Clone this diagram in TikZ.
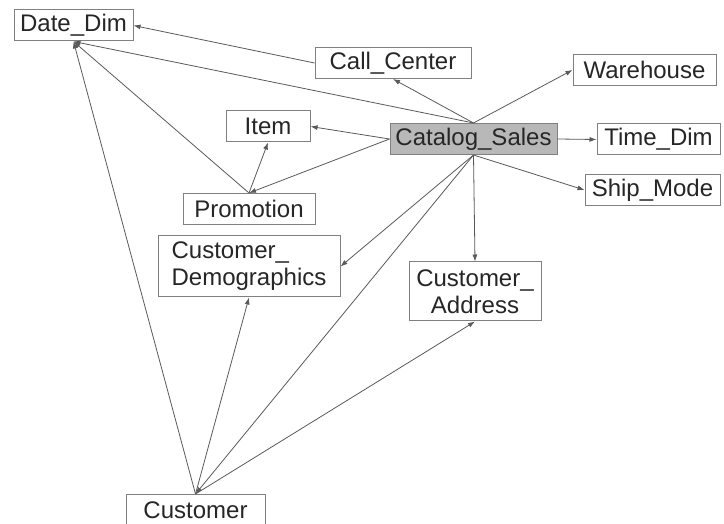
\documentclass[tikz,border=0pt]{standalone}
\usepackage{fontspec}
\setmainfont{Liberation Sans}
\usetikzlibrary{arrows.meta}
\begin{document}
\begin{tikzpicture}[x=1pt,y=-1pt,
    every node/.style={draw=black!50,line width=1pt,fill=white,text=black!85,
      font=\fontsize{24}{27}\selectfont,inner sep=0pt,minimum height=31pt},
    every edge/.append style={draw=black!65,line width=0.8pt},
    >={Latex[length=7pt,width=5pt]}]
    \useasboundingbox (0,0) rectangle (724,524);
            \node[minimum width=119pt] (1) at (73.5,25.5) {Date\_Dim};
            \node[minimum width=156pt] (2) at (393,63) {Call\_Center};
            \node[minimum width=143pt] (3) at (644.5,70) {Warehouse};
            \node[minimum width=84pt] (4) at (268,126.5) {Item};
            \node[minimum width=167pt,fill=black!28] (5) at (473.5,139) {Catalog\_Sales};
            \node[minimum width=123pt] (6) at (658.5,139.5) {Time\_Dim};
            \node[minimum width=135pt] (7) at (652.5,190) {Ship\_Mode};
            \node[minimum width=132pt] (8) at (249,209) {Promotion};
            \node[minimum width=182pt,minimum height=61pt,align=left] (9) at (249,266.5) {Customer\_\\Demographics};
            \node[minimum width=132pt,minimum height=59pt,align=center] (10) at (475,291.5) {Customer\_\\Address};
            \node[minimum width=139pt] (11) at (195.5,510) {Customer};
            \path[->]  (2.west) edge (1.east);
            \path[->]  (5.north) edge (1.south);
            \path[->]  (8.north) edge (1.south);
            \path[->]  (11.north) edge (1.south);
            \path[->]  (5.north) edge (2.south);
            \path[->]  (5.north) edge (3.west);
            \path[->]  (5.west) edge (4.east);
            \path[->]  (5.east) edge (6.west);
            \path[->]  (5.south) edge (7.west);
            \path[->]  (5.west) edge (8.north);
            \path[->]  (8.north) edge (4.south);
            \path[->]  (5.south) edge (9.east);
            \path[->]  (5.south) edge (10.north);
            \path[->]  (5.south) edge (11.north);
            \path[->]  (11.north) edge (9.south);
            \path[->]  (11.north) edge (10.south);
        \end{tikzpicture}
\end{document}
